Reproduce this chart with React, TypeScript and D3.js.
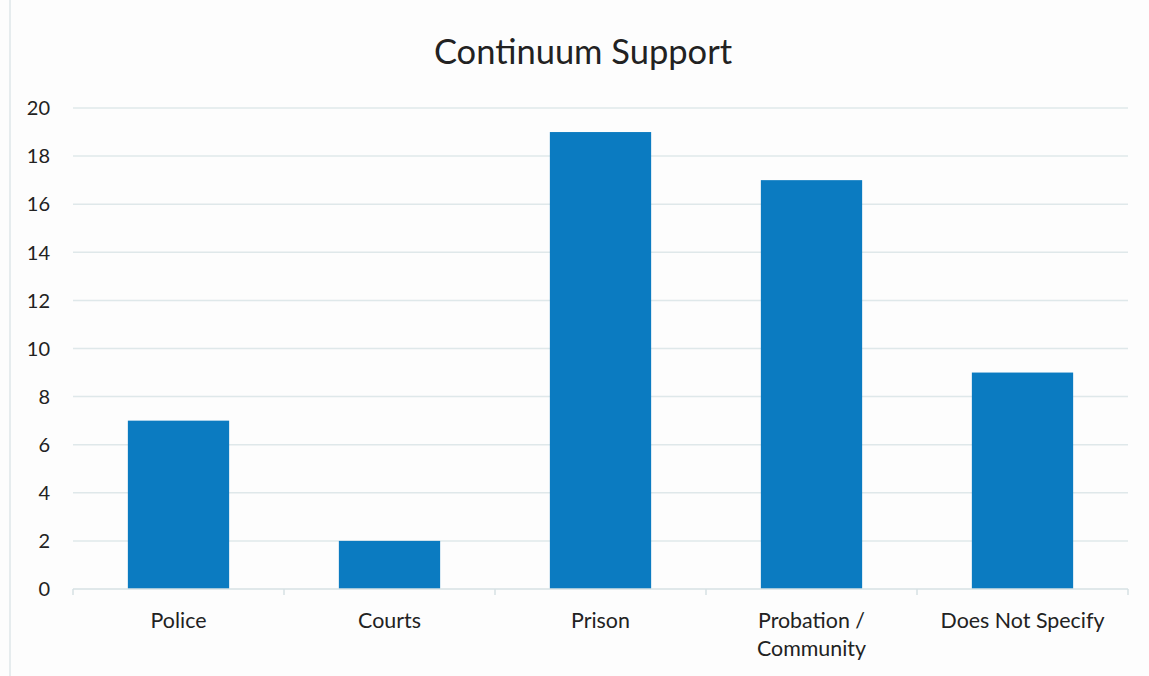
import React from "react";
import * as d3 from "d3";

const categories = ["Police", "Courts", "Prison", "Probation / Community", "Does Not Specify"];
const labelLines = [["Police"], ["Courts"], ["Prison"], ["Probation /", "Community"], ["Does Not Specify"]];
const values = [7, 2, 19, 17, 9];
const yTicks = [0, 2, 4, 6, 8, 10, 12, 14, 16, 18, 20];
const title = "Continuum Support";

const W = 1149;
const H = 676;
const left = 73;
const right = 1128;
const top = 108;
const bottom = 589;
const font = "Lato, 'Open Sans', sans-serif";

export default function App() {
  const x = d3.scaleBand<string>().domain(categories).range([left, right]).paddingInner(0.52).paddingOuter(0.26);
  const y = d3.scaleLinear().domain([0, 20]).range([bottom, top]);
  const boundaries = d3.range(categories.length + 1).map((i) => left + i * (right - left) / categories.length);
  return (
    <svg width={W} height={H} style={{ position: "absolute", left: 0, top: 0, background: "#fdfdfd" }}>
      <rect x={0} y={0} width={W} height={H} fill="#fdfdfd" />
      <line x1={10} x2={10} y1={0} y2={H} stroke="#e6ecee" strokeWidth={2} />
      <text x={583} y={64} textAnchor="middle" fontFamily={font} fontSize={34.5} fill="#222">{title}</text>
      {yTicks.map((t) => (
        <g key={t}>
          {t > 0 && <line x1={left} x2={right} y1={y(t)} y2={y(t)} stroke="#dfe8ea" strokeWidth={1.5} />}
          <text x={50} y={y(t)} dy="0.36em" textAnchor="end" fontFamily={font} fontSize={20} fill="#222">{t}</text>
        </g>
      ))}
      {categories.map((c, i) => (
        <rect key={c} x={x(c)} y={y(values[i])} width={x.bandwidth()} height={y(0) - y(values[i])} fill="#0b7bc1" />
      ))}
      <line x1={left} x2={right} y1={bottom} y2={bottom} stroke="#d6e0e3" strokeWidth={1.5} />
      {boundaries.map((b, i) => (
        <line key={i} x1={b} x2={b} y1={bottom} y2={bottom + 6} stroke="#d6e0e3" strokeWidth={1.5} />
      ))}
      {categories.map((c, i) => (
        <text key={c} x={(x(c) as number) + x.bandwidth() / 2} y={628} textAnchor="middle" fontFamily={font} fontSize={21.4} fill="#222">
          {labelLines[i].map((l, j) => (
            <tspan key={j} x={(x(c) as number) + x.bandwidth() / 2} dy={j === 0 ? 0 : 28}>{l}</tspan>
          ))}
        </text>
      ))}
    </svg>
  );
}
